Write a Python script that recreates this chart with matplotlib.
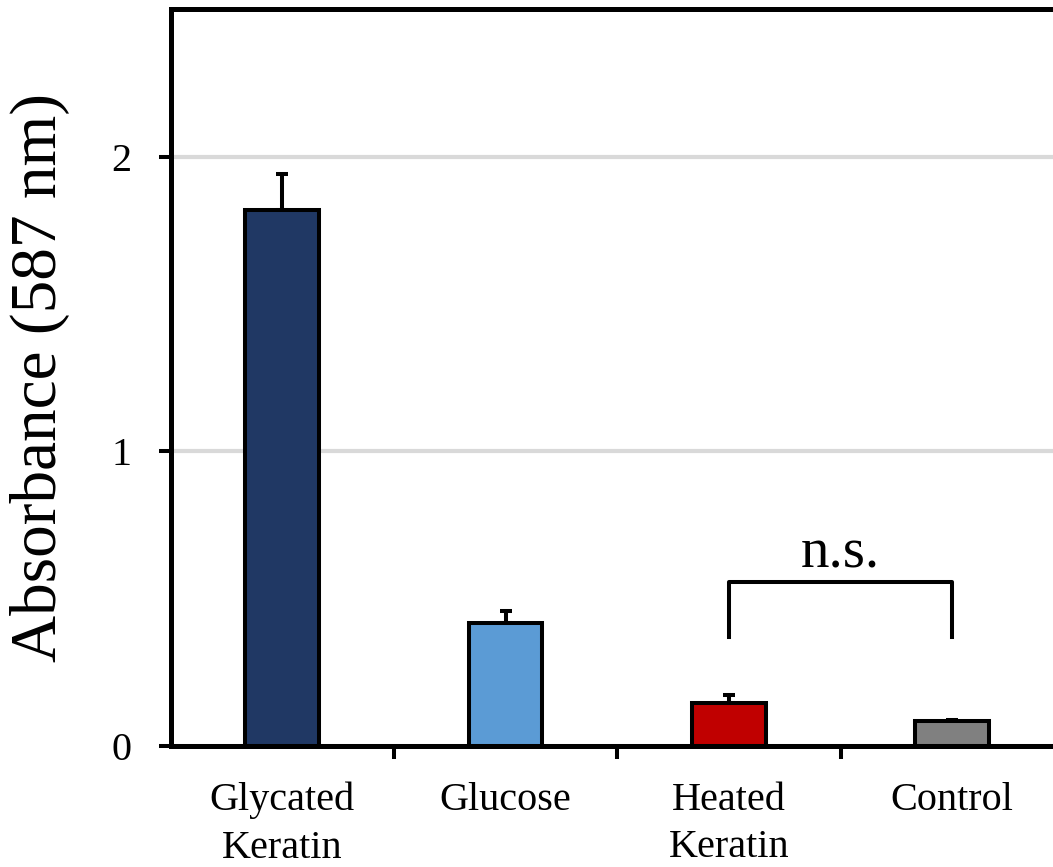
import numpy as np
import matplotlib.pyplot as plt

plt.rcParams['font.family'] = ['Liberation Serif', 'DejaVu Serif']

groups = ['Glycated\nKeratin', 'Glucose', 'Heated\nKeratin', 'Control']
absorbance = [1.82, 0.415, 0.143, 0.082]
sd = [0.12, 0.041, 0.030, 0.006]
colors = ['#203864', '#5b9bd5', '#c00000', '#808080']

# bracket between Heated Keratin and Control
pair = (2, 3)
bracket_low, bracket_high = 0.367, 0.554

fig = plt.figure(figsize=(10.53, 8.67), dpi=100)
ax = fig.add_axes([170.5 / 1053, 121.5 / 867, (1064 - 170.5) / 1053, (745.5 - 9.5) / 867])

x = np.arange(len(groups))
ax.bar(x, absorbance, width=0.33, color=colors, edgecolor='black', linewidth=2.9, zorder=3)
ax.errorbar(x, absorbance, yerr=[np.zeros(len(sd)), sd], fmt='none', ecolor='black',
            elinewidth=2.9, capsize=4.3, capthick=2.9, zorder=2)

ax.set_xlim(-0.5, 3.5)
ax.set_ylim(0, 2.5)
ax.set_yticks([0, 1, 2])
ax.set_xticks(np.arange(0.5, 3.5, 1))
ax.set_xticks(x, minor=True)
ax.set_xticklabels([])
ax.set_xticklabels(groups, minor=True)
ax.tick_params(axis='x', which='major', length=9, width=2.9, direction='out')
ax.tick_params(axis='x', which='minor', length=0, pad=26, labelsize=29)
ax.tick_params(axis='y', length=9, width=2.9, direction='out', pad=19, labelsize=29)
for lbl in ax.get_xticklabels(minor=True):
    lbl.set_linespacing(1.38)

ax.yaxis.grid(True, color='#d9d9d9', linewidth=3)
ax.set_axisbelow(True)
for side in ax.spines.values():
    side.set_linewidth(3.6)

# n.s. bracket
ax.plot([pair[0], pair[0], pair[1], pair[1]],
        [bracket_low, bracket_high, bracket_high, bracket_low],
        color='black', linewidth=2.9, zorder=4)
ax.text(sum(pair) / 2, 0.605, 'n.s.', ha='center', va='baseline', fontsize=41)

fig.text(40 / 1053, 1 - 377.5 / 867, 'Absorbance (587 nm)', rotation=90,
         ha='center', va='center', fontsize=47)

fig.savefig('out.png', dpi=100)
